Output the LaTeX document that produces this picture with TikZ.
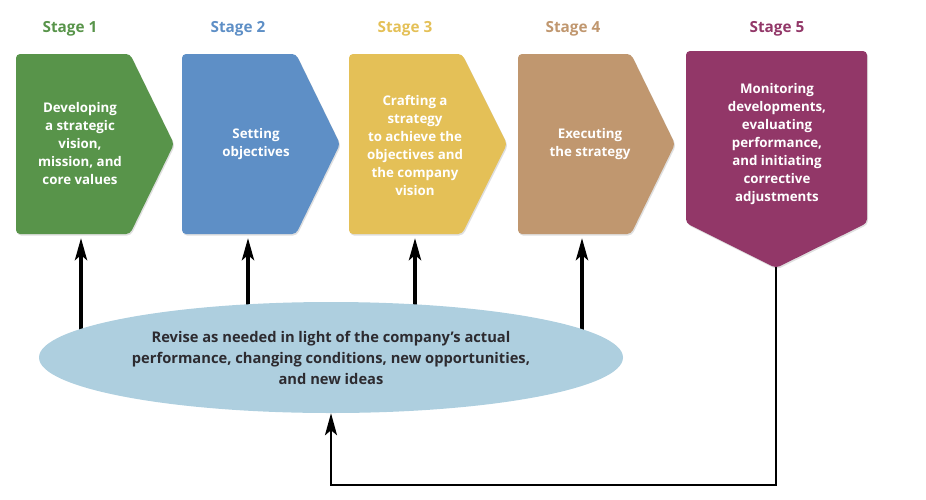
\documentclass[tikz,border=0pt]{standalone}
\usepackage{fontspec}
\setmainfont{Open Sans}
\usetikzlibrary{arrows.meta,shapes.geometric,backgrounds,shadows}
\definecolor{cgreen}{HTML}{58944A}
\definecolor{cblue}{HTML}{5E8FC6}
\definecolor{cyellow}{HTML}{E4C057}
\definecolor{ctan}{HTML}{C0976F}
\definecolor{cpurple}{HTML}{923768}
\definecolor{cell}{HTML}{AECFDF}
\definecolor{ctext}{HTML}{2D2B30}
\begin{document}
\begin{tikzpicture}[x=1pt,y=-1pt,
  stagebox/.style={rounded corners=4pt,drop shadow={shadow xshift=1pt,shadow yshift=-1.5pt,opacity=0.25}},
  stagetext/.style={text=white,font=\bfseries\fontsize{13.3}{18}\selectfont,align=center,inner sep=0pt},
  stagelabel/.style={font=\bfseries\fontsize{15.3}{18}\selectfont,inner sep=0pt},
  uparrow/.style={line width=4pt,-{Stealth[length=22pt,width=12pt,inset=5pt]}},
  fbline/.style={line width=2.6pt,-{Stealth[length=22pt,width=12pt,inset=5pt]}}]
\useasboundingbox (0,0) rectangle (926,499);
% stage shapes
\path[stagebox,fill=cgreen]  (16,54) -- (130,54) -- (174,144) -- (130,234) -- (16,234) -- cycle;
\path[stagebox,fill=cblue]   (182,54) -- (296,54) -- (340,144) -- (296,234) -- (182,234) -- cycle;
\path[stagebox,fill=cyellow] (349,54) -- (462,54) -- (507,144) -- (462,234) -- (349,234) -- cycle;
\path[stagebox,fill=ctan]    (518,54) -- (631,54) -- (675,144) -- (631,234) -- (518,234) -- cycle;
\path[stagebox,fill=cpurple] (686,51) -- (867,51) -- (867,223) -- (776,268) -- (686,223) -- cycle;
% labels
\node[stagelabel,text=cgreen]  (l1) at (70,28.5)  {Stage 1};
\node[stagelabel,text=cblue]   (l2) at (238,28.5) {Stage 2};
\node[stagelabel,text=cyellow] (l3) at (405,28.5) {Stage 3};
\node[stagelabel,text=ctan]    (l4) at (573,28.5) {Stage 4};
\node[stagelabel,text=cpurple] (l5) at (777,28.5) {Stage 5};
% texts
\node[stagetext] (s1) at (80,144)  {Developing\\a strategic\\vision,\\mission, and\\core values};
\node[stagetext] (s2) at (256,144) {Setting\\objectives};
\node[stagetext] (s3) at (415,145) {Crafting a\\strategy\\to achieve the\\objectives and\\the company\\vision};
\node[stagetext] (s4) at (590,144) {Executing\\the strategy};
\node[stagetext] (s5) at (777,144.5) {Monitoring\\developments,\\evaluating\\performance,\\and initiating\\corrective\\adjustments};
% ellipse
\node[ellipse,fill=cell,minimum width=584pt,minimum height=111pt,inner sep=0pt,
      text=ctext,align=center,font=\bfseries\fontsize{14.7}{21}\selectfont] (ell) at (331,357.5)
  {Revise as needed in light of the company’s actual\\performance, changing conditions, new opportunities,\\and new ideas};
% arrow end points
\coordinate (a1) at (81,238);
\coordinate (a2) at (248,238);
\coordinate (a3) at (415,238);
\coordinate (a4) at (582,238);
\coordinate (s5tip) at (776,267);
\coordinate (bot) at (0,485);
\begin{pgfonlayer}{background}
\draw[uparrow] (a1 |- ell.center) -- (a1);
\draw[uparrow] (a2 |- ell.center) -- (a2);
\draw[uparrow] (a3 |- ell.center) -- (a3);
\draw[uparrow] (a4 |- ell.center) -- (a4);
\end{pgfonlayer}
\draw[fbline] (s5tip) |- (ell.south |- bot) -- (ell.south);
\end{tikzpicture}
\end{document}
